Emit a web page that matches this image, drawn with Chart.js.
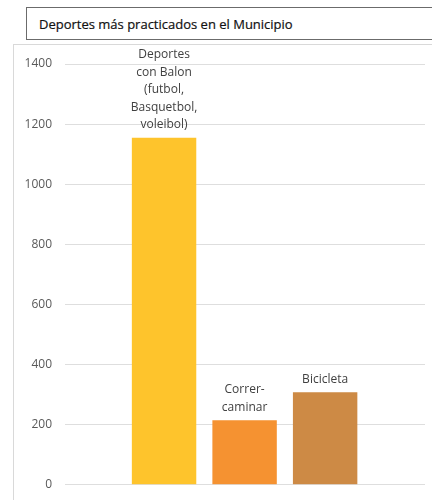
<!DOCTYPE html>
<html>
<head>
<meta charset="utf-8">
<script src="https://cdn.jsdelivr.net/npm/chart.js@4"></script>
<style>
  html, body { margin: 0; padding: 0; background: #fff; }
  #wrap { position: relative; width: 432px; height: 500px; overflow: hidden; }
  #panel { position: absolute; left: 13px; top: 44px; width: 440px; height: 470px;
    border-left: 1px solid #d9d9d9; border-top: 1px solid #d9d9d9; }
  #titleBox { position: absolute; left: 26px; top: 7px; width: 420px; height: 33px;
    border: 1px solid #6b6b6b; font: 13px "Open Sans", sans-serif; color: #111;
    line-height: 32px; padding-left: 12px; box-sizing: border-box; -webkit-text-stroke: 0.2px #111; }
  canvas { position: absolute; left: 0; top: 0; }
</style>
</head>
<body>
<div id="wrap">
  <div id="panel"></div>
  <div id="titleBox">Deportes más practicados en el Municipio</div>
  <canvas id="chart" width="432" height="505"></canvas>
</div>
<script>
  // data
  const categories = [
    ['Deportes', 'con Balon', '(futbol,', 'Basquetbol,', 'voleibol)'],
    ['Correr-', 'caminar'],
    ['Bicicleta']
  ];
  const values = [1155, 215, 308];
  const barColors = ['#fec42c', '#f59231', '#cd8a45'];
  const yTicks = [0, 200, 400, 600, 800, 1000, 1200, 1400];

  // text above each bar
  const barLabels = {
    id: 'barLabels',
    afterDatasetsDraw(chart) {
      const ctx = chart.ctx;
      const meta = chart.getDatasetMeta(0);
      ctx.save();
      ctx.font = '12px "Open Sans", sans-serif';
      ctx.fillStyle = '#404040';
      ctx.textAlign = 'center';
      ctx.textBaseline = 'middle';
      meta.data.forEach((bar, i) => {
        const lines = categories[i];
        const lineH = 17.5;
        lines.forEach((t, j) => {
          const y = bar.y - 13 - (lines.length - 1 - j) * lineH;
          ctx.fillText(t, bar.x, y);
        });
      });
      ctx.restore();
    }
  };

  new Chart(document.getElementById('chart'), {
    type: 'bar',
    data: {
      datasets: [{
        data: values.map((v, i) => ({ x: i + 1, y: v })),
        backgroundColor: barColors,
        borderWidth: 0,
        barPercentage: 0.8,
        categoryPercentage: 1
      }]
    },
    options: {
      responsive: false,
      animation: false,
      layout: { padding: { left: 0, right: 7, top: 64, bottom: 6 } },
      plugins: { legend: { display: false }, tooltip: { enabled: false } },
      scales: {
        x: { type: 'linear', display: false, offset: false, min: -0.23, max: 4.24 },
        y: {
          min: 0, max: 1400,
          afterFit: s => { s.width = 65; },
          afterBuildTicks: s => { s.ticks = yTicks.map(v => ({ value: v })); },
          border: { display: false },
          grid: { color: '#dedede', drawTicks: false },
          ticks: { padding: 13, color: '#595959', font: { family: 'Open Sans', size: 12 },
            callback: v => String(v) }
        }
      }
    },
    plugins: [barLabels]
  });
</script>
</body>
</html>
